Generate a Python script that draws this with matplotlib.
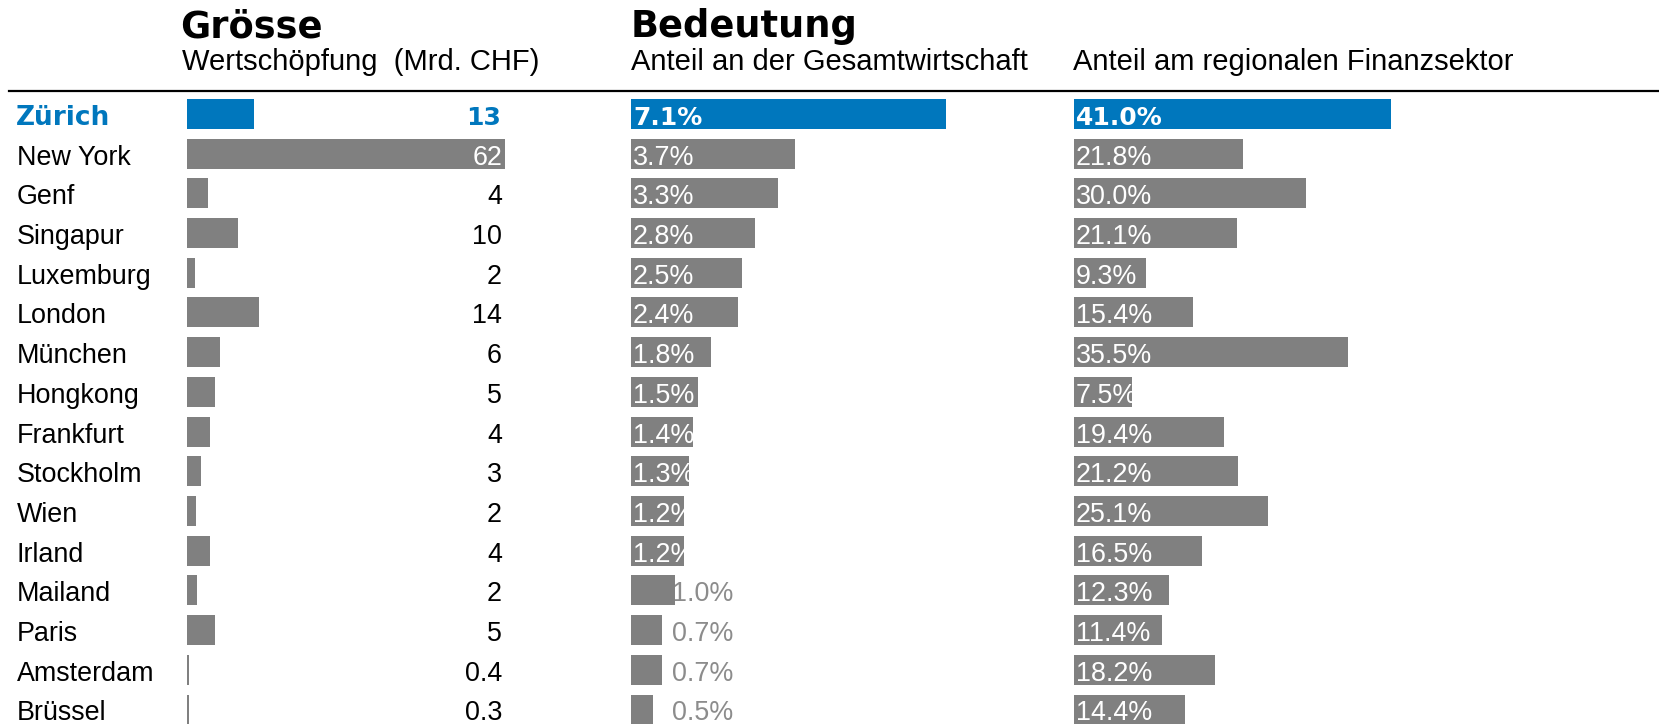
import matplotlib
matplotlib.use('Agg')
import matplotlib.pyplot as plt
from matplotlib.lines import Line2D

# data
staedte = ['Zürich', 'New York', 'Genf', 'Singapur', 'Luxemburg', 'London', 'München',
           'Hongkong', 'Frankfurt', 'Stockholm', 'Wien', 'Irland', 'Mailand', 'Paris',
           'Amsterdam', 'Brüssel']
wertschoepfung = [13.0, 62.0, 4.1, 10.0, 1.6, 14.0, 6.4, 5.4, 4.4, 2.7, 1.8, 4.4, 2.0, 5.4, 0.4, 0.3]
anteil_gesamt = [7.1, 3.7, 3.3, 2.8, 2.5, 2.4, 1.8, 1.5, 1.4, 1.3, 1.2, 1.2, 1.0, 0.7, 0.7, 0.5]
anteil_finanz = [41.0, 21.8, 30.0, 21.1, 9.3, 15.4, 35.5, 7.5, 19.4, 21.2, 25.1, 16.5, 12.3, 11.4, 18.2, 14.4]

BLUE = '#0077bd'
GREY = '#808080'
LABEL_GREY = '#8c8c8c'
REG = 'Liberation Sans'
HEAVY = 'DejaVu Sans'
FS = 19.4

W, H = 1659, 724
fig = plt.figure(figsize=(W / 100, H / 100), dpi=100)

row0, row_step = 114.0, 39.7   # pixel centre of first row, row spacing
y_top = -row0 / row_step
y_bot = (H - row0) / row_step
base = 11.0 / row_step          # baseline offset from row centre
bar_h = 30 / row_step


def column(x0, x1, ppu):
    ax = fig.add_axes([x0 / W, 0, (x1 - x0) / W, 1])
    ax.set_xlim(0, (x1 - x0) / ppu)
    ax.set_ylim(y_bot, y_top)
    ax.axis('off')
    return ax


cols = [(187, 520, 5.13), (631, 1060, 44.4), (1074, 1659, 7.73)]
ax1, ax2, ax3 = [column(*c) for c in cols]
colors = [BLUE] + [GREY] * (len(staedte) - 1)
rows = list(range(len(staedte)))

for ax, vals in [(ax1, wertschoepfung), (ax2, anteil_gesamt), (ax3, anteil_finanz)]:
    ax.barh(rows, vals, height=bar_h, color=colors, linewidth=0, zorder=2)


def px2x(ax_idx, px):
    x0, _, ppu = cols[ax_idx]
    return (px - x0) / ppu


# city names
for i, name in enumerate(staedte):
    if i == 0:
        ax1.text(px2x(0, 16), i + base, name, ha='left', va='baseline', color=BLUE,
                 fontsize=19, family=HEAVY, weight='bold', clip_on=False)
    else:
        ax1.text(px2x(0, 17), i + base, name, ha='left', va='baseline', color='black',
                 fontsize=FS, family=REG, clip_on=False)

# column 1 values
for i, v in enumerate(wertschoepfung):
    lab = f'{v:.0f}' if v >= 1 else f'{v:.1f}'
    end_px = cols[0][0] + v * cols[0][2]
    if i == 0:
        ax1.text(px2x(0, 501), i + base, lab, ha='right', va='baseline', color=BLUE,
                 fontsize=18, family=HEAVY, weight='bold', zorder=3)
    else:
        c = 'white' if end_px > 480 else 'black'
        ax1.text(px2x(0, 502), i + base, lab, ha='right', va='baseline', color=c,
                 fontsize=FS, family=REG, zorder=3)

# column 2 values
for i, v in enumerate(anteil_gesamt):
    lab = f'{v:.1f}%'
    if i == 0:
        ax2.text(px2x(1, 633), i + base, lab, ha='left', va='baseline', color='white',
                 fontsize=18, family=HEAVY, weight='bold', zorder=3)
    elif v >= 1.1:
        ax2.text(px2x(1, 633), i + base, lab, ha='left', va='baseline', color='white',
                 fontsize=FS, family=REG, zorder=3)
    else:
        ax2.text(px2x(1, 733), i + base, lab, ha='right', va='baseline', color=LABEL_GREY,
                 fontsize=FS, family=REG, zorder=1)

# column 3 values
for i, v in enumerate(anteil_finanz):
    lab = f'{v:.1f}%'
    if i == 0:
        ax3.text(px2x(2, 1076), i + base, lab, ha='left', va='baseline', color='white',
                 fontsize=18, family=HEAVY, weight='bold', zorder=3)
    else:
        ax3.text(px2x(2, 1076), i + base, lab, ha='left', va='baseline', color='white',
                 fontsize=FS, family=REG, zorder=3)

# headers
def ftext(xpx, ypx, s, **kw):
    fig.text(xpx / W, 1 - ypx / H, s, ha='left', va='baseline', **kw)


ftext(180, 37, 'Grösse', fontsize=26.5, family=HEAVY, weight='bold')
ftext(631, 37, 'Bedeutung', fontsize=26.5, family=HEAVY, weight='bold')
ftext(182, 70, 'Wertschöpfung  (Mrd. CHF)', fontsize=21, family=REG)
ftext(631, 70, 'Anteil an der Gesamtwirtschaft', fontsize=21, family=REG)
ftext(1073, 70, 'Anteil am regionalen Finanzsektor', fontsize=21, family=REG)

fig.add_artist(Line2D([9 / W, 1], [1 - 91 / H, 1 - 91 / H], color='black', lw=1.6))

fig.savefig('out.png', dpi=100, facecolor='white')
